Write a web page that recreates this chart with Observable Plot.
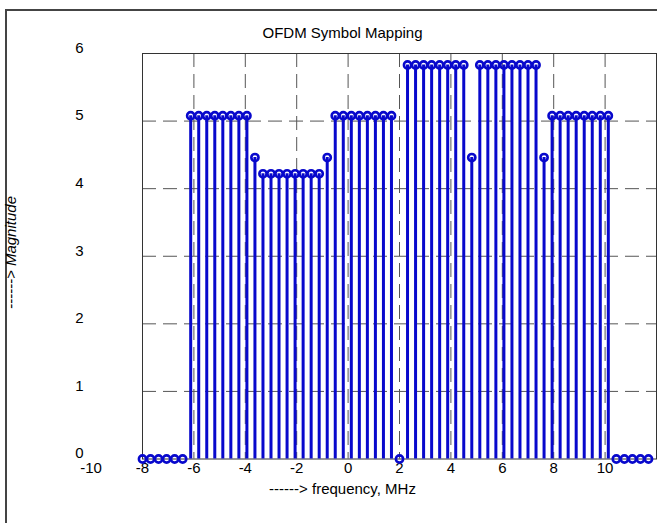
<!DOCTYPE html>
<html>
<head>
<meta charset="utf-8">
<script src="https://cdn.jsdelivr.net/npm/d3@7"></script>
<script src="https://cdn.jsdelivr.net/npm/@observablehq/plot@0.6"></script>
<style>
  html, body { margin: 0; padding: 0; background: white; overflow: hidden; }
  #outer { position: absolute; left: 5px; top: 9px; width: 900px; height: 800px;
           border-left: 2px solid #444; border-top: 2px solid #444; }
  #chart { position: absolute; left: 0; top: 0; }
</style>
</head>
<body>
<div id="outer"></div>
<div id="chart"></div>
<script>
// Subcarrier frequencies (MHz)
const frequency = [
  -8, -7.6875, -7.375, -7.0625, -6.75, -6.4375, -6.125, -5.8125,
  -5.5, -5.1875, -4.875, -4.5625, -4.25, -3.9375, -3.625, -3.3125,
  -3, -2.6875, -2.375, -2.0625, -1.75, -1.4375, -1.125, -0.8125,
  -0.5, -0.1875, 0.125, 0.4375, 0.75, 1.0625, 1.375, 1.6875,
  2, 2.3125, 2.625, 2.9375, 3.25, 3.5625, 3.875, 4.1875,
  4.5, 4.8125, 5.125, 5.4375, 5.75, 6.0625, 6.375, 6.6875,
  7, 7.3125, 7.625, 7.9375, 8.25, 8.5625, 8.875, 9.1875,
  9.5, 9.8125, 10.125, 10.4375, 10.75, 11.0625, 11.375, 11.6875
];
// Magnitudes
const magnitude = [
  0, 0, 0, 0, 0, 0, 5.08, 5.08,
  5.08, 5.08, 5.08, 5.08, 5.08, 5.08, 4.46, 4.22,
  4.22, 4.22, 4.22, 4.22, 4.22, 4.22, 4.22, 4.46,
  5.08, 5.08, 5.08, 5.08, 5.08, 5.08, 5.08, 5.08,
  0, 5.83, 5.83, 5.83, 5.83, 5.83, 5.83, 5.83,
  5.83, 4.46, 5.83, 5.83, 5.83, 5.83, 5.83, 5.83,
  5.83, 5.83, 4.46, 5.08, 5.08, 5.08, 5.08, 5.08,
  5.08, 5.08, 5.08, 0, 0, 0, 0, 0
];
const xTicks = [-10, -8, -6, -4, -2, 0, 2, 4, 6, 8, 10];
const xGrid = [-6, -4, -2, 0, 2, 4, 6, 8, 10];
const yTicks = [0, 1, 2, 3, 4, 5, 6];
const yGrid = [1, 2, 3, 4, 5];
const titleText = "OFDM Symbol Mapping";
const xLabel = "------> frequency, MHz";
const yLabel = "------> Magnitude";

const points = frequency.map((f, i) => ({f, m: magnitude[i]}));
const blue = "#0808cc";
const gridColor = "#555";
const fmt = d => String(d);

const plot = Plot.plot({
  width: 657,
  height: 523,
  marginLeft: 142,
  marginRight: 1,
  marginTop: 53,
  marginBottom: 64.5,
  x: {domain: [-8, 12]},
  y: {domain: [0, 6]},
  style: {
    fontFamily: "Arial, 'Liberation Sans', Helvetica, sans-serif",
    fontSize: "15px",
    background: "transparent",
    color: "black",
    overflow: "visible"
  },
  marks: [
    Plot.gridX(xGrid, {stroke: gridColor, strokeOpacity: 1, strokeWidth: 1, strokeDasharray: "14,7"}),
    Plot.gridY(yGrid, {stroke: gridColor, strokeOpacity: 1, strokeWidth: 1, strokeDasharray: "14,7"}),
    Plot.frame({stroke: "#333", strokeWidth: 1}),
    Plot.axisX({ticks: xTicks, tickSize: 0, tickPadding: 3, label: null, tickFormat: fmt}),
    Plot.axisY({ticks: yTicks, tickSize: 0, tickPadding: 59, dy: -5.5, label: null, tickFormat: fmt}),
    Plot.ruleX(points, {x: "f", y1: 0, y2: "m", stroke: blue, strokeWidth: 3}),
    Plot.dot(points, {x: "f", y: "m", r: 3.6, stroke: blue, strokeWidth: 2.6, fill: "none"}),
    Plot.text([titleText], {frameAnchor: "top-left", dx: 200, dy: -20.3, textAnchor: "middle", lineAnchor: "middle", fontSize: 15}),
    Plot.text([xLabel], {frameAnchor: "bottom-left", dx: 200, dy: 29.7, textAnchor: "middle", lineAnchor: "middle", fontSize: 15}),
    Plot.text([yLabel], {frameAnchor: "left", dx: -131.3, dy: -3.75, rotate: -90, textAnchor: "middle", lineAnchor: "middle", fontSize: 15, fontStyle: "italic"})
  ]
});
document.getElementById("chart").appendChild(plot);
</script>
</body>
</html>
